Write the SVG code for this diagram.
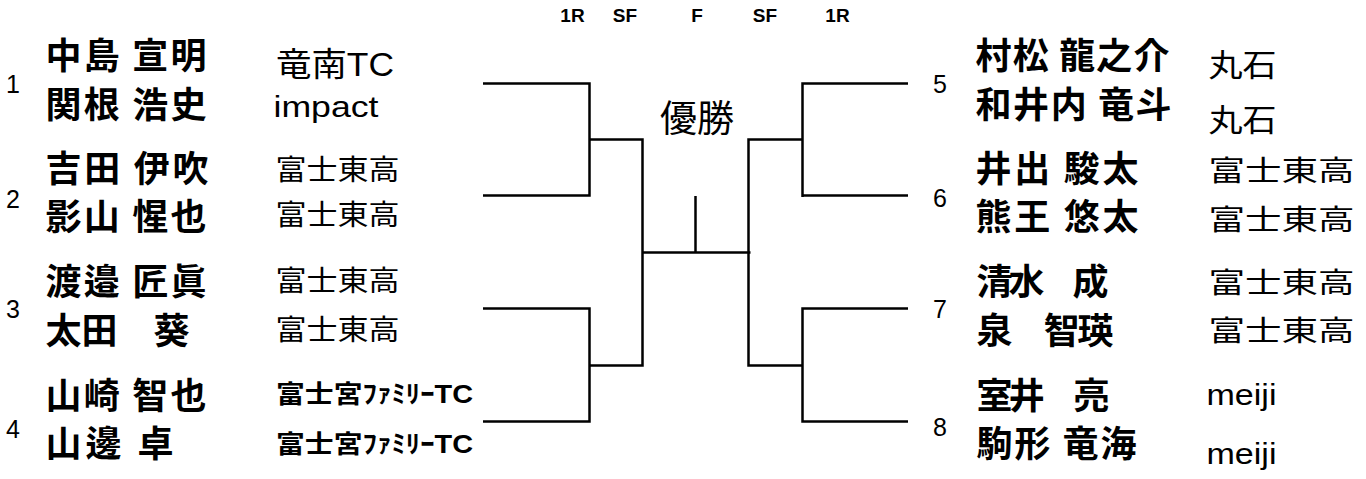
<svg xmlns="http://www.w3.org/2000/svg" width="1366" height="479" viewBox="0 0 1366 479">
<style>
.nm{font-family:"Noto Sans CJK JP",sans-serif;font-weight:bold;font-size:36px;fill:#000}
.cl{font-family:"Liberation Sans","Noto Sans CJK JP",sans-serif;font-size:28px;fill:#000}
.num{font-family:"Liberation Sans","Noto Sans CJK JP",sans-serif;font-size:25px;fill:#000;text-anchor:middle}
.hd{font-family:"Liberation Sans",sans-serif;font-weight:bold;font-size:19px;fill:#000;text-anchor:middle}
.ln{fill:none;stroke:#000;stroke-width:2.5}
</style>
<rect width="1366" height="479" fill="#fff"/>
<g id="header">
<text class="hd" x="572.5" y="22">1R</text>
<text class="hd" x="625" y="22">SF</text>
<text class="hd" x="697" y="22">F</text>
<text class="hd" x="765" y="22">SF</text>
<text class="hd" x="837.5" y="22">1R</text>
</g>
<g id="champion">
<text x="697" y="132" style="font-family:'Noto Sans CJK JP',sans-serif;font-size:37px;text-anchor:middle">優勝</text>
</g>
<g id="entry1">
<text class="num" x="13" y="93">1</text>
<text class="nm" x="45.5" y="69" textLength="161" lengthAdjust="spacing">中島 宣明</text>
<text class="nm" x="45.5" y="118" textLength="161" lengthAdjust="spacing">関根 浩史</text>
<text class="cl" x="276" y="76" style="font-size:33px" textLength="118" lengthAdjust="spacingAndGlyphs">竜南TC</text>
<text class="cl" x="273.5" y="117" style="font-size:29px" textLength="105" lengthAdjust="spacingAndGlyphs">impact</text>
</g>
<g id="entry2">
<text class="num" x="13" y="208">2</text>
<text class="nm" x="45.5" y="182" textLength="163" lengthAdjust="spacing">吉田 伊吹</text>
<text class="nm" x="45.5" y="230" textLength="161" lengthAdjust="spacing">影山 惺也</text>
<text class="cl" x="275.5" y="180" textLength="124" lengthAdjust="spacingAndGlyphs">富士東高</text>
<text class="cl" x="275.5" y="225" textLength="124" lengthAdjust="spacingAndGlyphs">富士東高</text>
</g>
<g id="entry3">
<text class="num" x="13" y="318">3</text>
<text class="nm" x="45.5" y="295" textLength="161" lengthAdjust="spacing">渡邉 匠眞</text>
<text class="nm" x="45.5" y="344" textLength="144" lengthAdjust="spacing">太田　葵</text>
<text class="cl" x="275.5" y="291" textLength="124" lengthAdjust="spacingAndGlyphs">富士東高</text>
<text class="cl" x="275.5" y="340" textLength="124" lengthAdjust="spacingAndGlyphs">富士東高</text>
</g>
<g id="entry4">
<text class="num" x="13" y="438">4</text>
<text class="nm" x="45.5" y="409" textLength="161" lengthAdjust="spacing">山崎 智也</text>
<text class="nm" x="45.5" y="457" textLength="128" lengthAdjust="spacing">山邊 卓</text>
<text class="cl" x="276" y="403" style="font-size:25px;font-weight:bold" textLength="197" lengthAdjust="spacingAndGlyphs">富士宮ﾌｧﾐﾘｰTC</text>
<text class="cl" x="276" y="453" style="font-size:25px;font-weight:bold" textLength="197" lengthAdjust="spacingAndGlyphs">富士宮ﾌｧﾐﾘｰTC</text>
</g>
<g id="entry5">
<text class="num" x="940" y="93">5</text>
<text class="nm" x="975.5" y="69" textLength="194" lengthAdjust="spacing">村松 龍之介</text>
<text class="nm" x="975.5" y="118" textLength="196" lengthAdjust="spacing">和井内 竜斗</text>
<text class="cl" x="1208.5" y="76" style="font-size:31px" textLength="68" lengthAdjust="spacingAndGlyphs">丸石</text>
<text class="cl" x="1208.5" y="131" style="font-size:31px" textLength="68" lengthAdjust="spacingAndGlyphs">丸石</text>
</g>
<g id="entry6">
<text class="num" x="940" y="207">6</text>
<text class="nm" x="975.5" y="182" textLength="163" lengthAdjust="spacing">井出 駿太</text>
<text class="nm" x="975.5" y="230" textLength="163" lengthAdjust="spacing">熊王 悠太</text>
<text class="cl" x="1208.5" y="181" textLength="146" lengthAdjust="spacingAndGlyphs">富士東高</text>
<text class="cl" x="1208.5" y="230" textLength="146" lengthAdjust="spacingAndGlyphs">富士東高</text>
</g>
<g id="entry7">
<text class="num" x="940" y="318">7</text>
<text class="nm" x="976.5" y="295" textLength="132" lengthAdjust="spacing">清水　成</text>
<text class="nm" x="976.5" y="344" textLength="137" lengthAdjust="spacing">泉　智瑛</text>
<text class="cl" x="1208.5" y="293" textLength="146" lengthAdjust="spacingAndGlyphs">富士東高</text>
<text class="cl" x="1208.5" y="341" textLength="146" lengthAdjust="spacingAndGlyphs">富士東高</text>
</g>
<g id="entry8">
<text class="num" x="940" y="436">8</text>
<text class="nm" x="976.5" y="409" textLength="133" lengthAdjust="spacing">室井　亮</text>
<text class="nm" x="976.5" y="457" textLength="160" lengthAdjust="spacing">駒形 竜海</text>
<text class="cl" x="1206.5" y="405" style="font-size:30px" textLength="70" lengthAdjust="spacingAndGlyphs">meiji</text>
<text class="cl" x="1206.5" y="464" style="font-size:30px" textLength="70" lengthAdjust="spacingAndGlyphs">meiji</text>
</g>
<g id="connectors">
<path class="ln" d="M483 83.5H589.5V195.5H483"/>
<path class="ln" d="M483 308.5H589.5V421.5H483"/>
<path class="ln" d="M589.5 139.5H642.5V365.5H589.5"/>
<path class="ln" d="M642.5 252.5H750.5"/>
<path class="ln" d="M695.5 196V252.5"/>
<path class="ln" d="M908 83.5H802.5V197"/>
<path class="ln" d="M802.5 195.5H908"/>
<path class="ln" d="M908 308.5H802.5V421.5H908"/>
<path class="ln" d="M802.5 139.5H748.5V365.5H802.5"/>
</g>
</svg>
